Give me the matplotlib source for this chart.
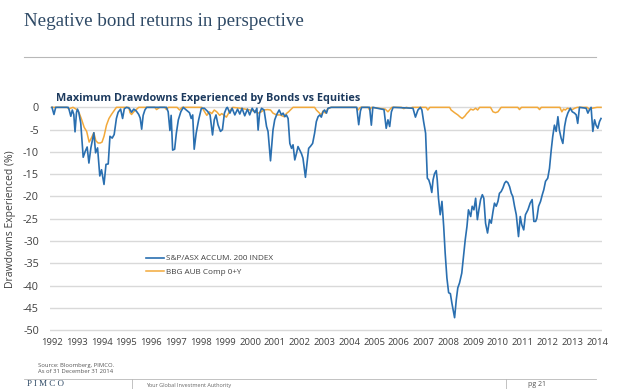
import matplotlib
matplotlib.use("Agg")
import matplotlib.pyplot as plt
from matplotlib.lines import Line2D

plt.rcParams['font.family'] = ['Open Sans', 'DejaVu Sans']
plt.rcParams['axes.unicode_minus'] = False

# S&P/ASX 200 accumulation index drawdown (%)
eq_year = [1992.00, 1992.08, 1992.15, 1992.65, 1992.69, 1992.76, 1992.82, 1992.88, 1992.93, 1992.99,
           1993.03, 1993.08, 1993.16, 1993.26, 1993.34, 1993.42, 1993.49, 1993.57, 1993.69, 1993.76,
           1993.84, 1993.93, 1994.00, 1994.10, 1994.18, 1994.27, 1994.34, 1994.43, 1994.51, 1994.60,
           1994.67, 1994.77, 1994.85, 1994.92, 1995.01, 1995.12, 1995.21, 1995.30, 1995.40, 1995.50,
           1995.56, 1995.62, 1995.68, 1995.75, 1995.82, 1996.62, 1996.69, 1996.76, 1996.81, 1996.87,
           1996.95, 1997.02, 1997.10, 1997.20, 1997.30, 1997.42, 1997.55, 1997.62, 1997.68, 1997.74,
           1997.82, 1997.92, 1998.03, 1998.15, 1998.28, 1998.38, 1998.48, 1998.55, 1998.62, 1998.70,
           1998.80, 1998.88, 1998.96, 1999.04, 1999.08, 1999.18, 1999.27, 1999.38, 1999.49, 1999.58,
           1999.67, 1999.78, 1999.89, 1999.98, 2000.08, 2000.19, 2000.27, 2000.32, 2000.38, 2000.46,
           2000.56, 2000.66, 2000.72, 2000.82, 2000.92, 2000.99, 2001.08, 2001.17, 2001.26, 2001.33,
           2001.40, 2001.46, 2001.53, 2001.60, 2001.67, 2001.73, 2001.80, 2001.87, 2001.93, 2002.00,
           2002.07, 2002.13, 2002.23, 2002.31, 2002.36, 2002.44, 2002.52, 2002.60, 2002.67, 2002.74,
           2002.81, 2002.87, 2002.94, 2003.00, 2003.08, 2003.14, 2003.28, 2004.30, 2004.38, 2004.45,
           2004.50, 2004.82, 2004.89, 2004.95, 2005.40, 2005.49, 2005.56, 2005.63, 2005.70, 2005.77,
           2006.57, 2006.67, 2006.77, 2006.87, 2006.93, 2007.00, 2007.08, 2007.15, 2007.21, 2007.27,
           2007.33, 2007.38, 2007.44, 2007.51, 2007.55, 2007.60, 2007.67, 2007.74, 2007.81, 2007.87,
           2007.94, 2008.01, 2008.08, 2008.14, 2008.25, 2008.32, 2008.38, 2008.45, 2008.54, 2008.61,
           2008.68, 2008.75, 2008.81, 2008.90, 2008.96, 2009.03, 2009.10, 2009.17, 2009.23, 2009.30,
           2009.37, 2009.43, 2009.50, 2009.58, 2009.66, 2009.73, 2009.80, 2009.86, 2009.93, 2010.00,
           2010.06, 2010.13, 2010.20, 2010.27, 2010.33, 2010.40, 2010.47, 2010.54, 2010.60, 2010.67,
           2010.74, 2010.78, 2010.83, 2010.90, 2010.96, 2011.04, 2011.11, 2011.21, 2011.30, 2011.38,
           2011.45, 2011.52, 2011.57, 2011.64, 2011.72, 2011.79, 2011.85, 2011.92, 2012.01, 2012.08,
           2012.15, 2012.21, 2012.28, 2012.35, 2012.42, 2012.48, 2012.55, 2012.62, 2012.69, 2012.75,
           2012.82, 2012.92, 2013.00, 2013.09, 2013.16, 2013.22, 2013.29, 2013.56, 2013.63, 2013.69,
           2013.76, 2013.83, 2013.90, 2013.96, 2014.03, 2014.10, 2014.16]
eq_dd = [0.0, -1.6, 0.0, 0.0, -0.5, -2.0, -0.6, -1.6, -5.5, -1.1,
         -0.4, -1.1, -3.5, -11.2, -9.9, -8.9, -12.5, -9.1, -5.7, -10.2,
         -9.1, -15.4, -14.0, -17.3, -12.8, -12.7, -6.5, -6.9, -6.1, -2.5,
         -1.1, -0.4, -2.5, -0.3, 0.0, -0.2, -1.1, -0.4, -0.8, -1.6,
         -2.4, -4.9, -1.8, -0.6, 0.0, 0.0, -1.0, -5.2, -1.8, -9.6,
         -9.4, -5.8, -2.8, -1.0, 0.0, -0.6, -1.2, -2.5, -1.7, -9.4,
         -5.8, -2.8, -0.2, -0.2, -0.9, -1.7, -6.2, -2.8, -1.7, -3.9,
         -5.4, -5.0, -1.3, -0.2, 0.0, -1.3, -0.2, -1.7, -0.4, -1.5,
         -0.2, -1.9, -0.4, -1.7, -0.2, -1.2, -0.2, -5.1, -1.3, -0.2,
         -0.6, -4.3, -5.4, -12.0, -5.1, -2.8, -1.5, -0.6, -1.7, -1.3,
         -2.1, -1.7, -2.5, -8.1, -9.2, -8.4, -11.8, -10.3, -8.8, -9.6,
         -10.4, -11.4, -15.7, -11.8, -9.2, -8.7, -8.1, -5.8, -3.2, -2.1,
         -1.7, -2.2, -1.0, -0.6, -1.3, -0.2, 0.0, 0.0, -3.9, -0.8,
         0.0, 0.0, -4.0, 0.0, -0.5, -4.7, -2.8, -4.3, -1.0, 0.0,
         -0.2, -2.2, -0.6, 0.0, -0.6, -3.2, -5.8, -15.9, -16.3, -17.4,
         -19.1, -16.3, -14.9, -14.2, -16.3, -20.4, -24.1, -21.1, -26.7, -32.7,
         -38.3, -41.6, -41.8, -43.9, -47.2, -43.1, -40.5, -39.4, -37.2, -33.4,
         -29.7, -26.7, -23.0, -24.5, -22.2, -23.0, -20.4, -25.2, -23.0, -20.7,
         -19.6, -20.4, -26.0, -28.2, -25.2, -26.0, -23.4, -21.5, -22.2, -21.1,
         -19.3, -18.9, -18.1, -17.0, -16.6, -16.9, -17.8, -19.3, -20.0, -22.2,
         -24.1, -26.3, -29.0, -24.5, -26.3, -27.5, -24.1, -23.0, -21.5, -20.7,
         -25.6, -25.6, -24.9, -22.2, -21.1, -19.6, -18.5, -16.6, -15.9, -13.7,
         -9.6, -6.6, -4.0, -5.4, -2.1, -5.1, -6.9, -8.1, -4.3, -2.5,
         -1.3, -0.2, -1.0, -1.3, -1.7, -3.6, 0.0, -0.2, -1.3, -0.6,
         0.0, -5.4, -2.8, -4.0, -4.7, -3.2, -2.5]

# Bloomberg AusBond Composite 0+Y drawdown (%)
bd_year = [1992.00, 1992.60, 1992.70, 1992.85, 1993.00, 1993.10, 1993.20, 1993.30, 1993.40, 1993.50,
           1993.58, 1993.69, 1993.77, 1993.86, 1993.95, 1994.02, 1994.10, 1994.20, 1994.30, 1994.40,
           1994.50, 1994.60, 1995.10, 1995.15, 1995.21, 1995.30, 1995.40, 1995.50, 1996.15, 1996.22,
           1996.35, 1996.55, 1996.62, 1996.70, 1997.05, 1997.15, 1997.25, 1998.05, 1998.17, 1998.25,
           1998.35, 1998.45, 1998.55, 1998.65, 1998.77, 1998.85, 1998.95, 1999.04, 1999.12, 1999.20,
           1999.30, 1999.60, 1999.80, 2000.00, 2000.20, 2000.32, 2000.42, 2000.55, 2000.70, 2000.82,
           2000.92, 2001.06, 2001.20, 2001.37, 2001.46, 2001.55, 2001.73, 2002.60, 2002.67, 2002.80,
           2002.87, 2002.94, 2003.04, 2003.12, 2003.25, 2004.28, 2004.35, 2004.45, 2004.76, 2004.82,
           2004.90, 2005.45, 2005.56, 2005.65, 2005.72, 2006.10, 2006.20, 2006.30, 2006.45, 2006.55,
           2007.10, 2007.17, 2007.25, 2008.05, 2008.11, 2008.25, 2008.38, 2008.48, 2008.56, 2008.66,
           2008.74, 2008.81, 2008.90, 2009.00, 2009.10, 2009.18, 2009.26, 2009.70, 2009.80, 2009.90,
           2010.00, 2010.13, 2010.80, 2010.87, 2010.95, 2011.60, 2011.68, 2011.75, 2012.50, 2012.58,
           2012.65, 2012.72, 2012.80, 2013.00, 2013.10, 2013.20, 2013.60, 2013.68, 2013.80, 2014.00, 2014.16]
bd_dd = [0.0, 0.0, -0.3, 0.0, -0.5, -1.3, -2.8, -4.5, -5.4, -7.8,
         -7.0, -5.7, -7.5, -8.0, -8.0, -7.8, -6.5, -4.0, -2.5, -1.6,
         -0.8, 0.0, 0.0, -1.2, -1.6, -1.0, -0.5, 0.0, 0.0, -0.5,
         0.0, 0.0, -0.5, 0.0, 0.0, -0.6, 0.0, 0.0, -1.1, -1.8,
         -1.0, -1.4, -0.6, -1.0, -1.8, -1.4, -1.8, -2.2, -1.4, -0.6,
         0.0, -0.2, -0.4, -0.6, -0.9, -1.3, -1.1, -0.6, -0.5, -0.6,
         -1.3, -1.7, -1.7, -2.1, -1.4, -1.0, 0.0, 0.0, -0.6, -1.3,
         -1.7, -0.8, -1.3, -0.4, 0.0, 0.0, -0.6, 0.0, 0.0, -0.6,
         0.0, -0.4, -1.0, -0.4, 0.0, 0.0, -0.3, 0.0, -0.2, 0.0,
         0.0, -0.6, 0.0, 0.0, -0.6, -1.2, -1.7, -2.2, -2.5, -2.0,
         -1.4, -1.0, -0.4, -0.6, -0.2, -0.6, 0.0, 0.0, -1.0, -1.2,
         -1.0, 0.0, 0.0, -0.5, 0.0, 0.0, -0.5, 0.0, 0.0, -1.0,
         -0.4, -0.6, -0.2, -0.5, -0.2, 0.0, 0.0, -0.4, -0.2, 0.0, 0.0]

years = list(range(1992, 2015))
yticks = list(range(0, -55, -5))

blue = '#2a6fb0'
orange = '#f2a93b'
navy = '#1c3a5e'
grey_txt = '#404040'

fig = plt.figure(figsize=(6.28, 3.89), dpi=100)
fig.patch.set_facecolor('white')

# page header
fig.text(24 / 628, 1 - 22 / 389, 'Negative bond returns in perspective',
         family='Liberation Serif', fontsize=13.7, color='#2f4a66', va='center', ha='left')
fig.add_artist(Line2D([24 / 628, 596 / 628], [1 - 57 / 389, 1 - 57 / 389],
                      color='#b8b8b8', lw=0.8))

# chart
ax = fig.add_axes([50 / 628, 1 - 331.5 / 389, 552 / 628, 225.5 / 389])
ax.plot(bd_year, bd_dd, color=orange, lw=1.1, label='BBG AUB Comp 0+Y', zorder=3)
ax.plot(eq_year, eq_dd, color=blue, lw=1.2, label='S&P/ASX ACCUM. 200 INDEX', zorder=4)
ax.set_xlim(1991.92, 2014.2)
ax.set_ylim(-50.3, 0.3)
ax.set_xticks(years)
ax.set_yticks(yticks)
ax.set_xticklabels([str(y) for y in years])
ax.set_yticklabels([str(v) for v in yticks])
ax.tick_params(axis='x', length=0, labelsize=6.8, colors=grey_txt, pad=5)
ax.tick_params(axis='y', length=0, labelsize=7.8, colors=grey_txt, pad=8)
ax.grid(axis='y', color='#d9d9d9', lw=1.0)
ax.set_axisbelow(True)
for s in ax.spines.values():
    s.set_visible(False)
ax.set_ylabel('Drawdowns Experienced (%)', fontsize=7.5, color=grey_txt)
ax.yaxis.set_label_coords(-0.062, 0.5)

handles, labels = ax.get_legend_handles_labels()
leg = ax.legend(handles[::-1], labels[::-1], loc='upper left', bbox_to_anchor=(0.168, 0.355),
                frameon=False, fontsize=5.9, handlelength=2.2, handletextpad=0.3,
                labelspacing=0.75, borderaxespad=0)
for t in leg.get_texts():
    t.set_color(grey_txt)

fig.text(56 / 628, 1 - 98 / 389, 'Maximum Drawdowns Experienced by Bonds vs Equities',
         fontsize=7.8, fontweight='bold', color=navy, va='center', ha='left')

# notes and footer
fig.text(38 / 628, 1 - 365 / 389, 'Source: Bloomberg, PIMCO.', fontsize=4.2, color='#555555', va='center')
fig.text(38 / 628, 1 - 371.5 / 389, 'As of 31 December 31 2014', fontsize=4.2, color='#555555', va='center')
fig.add_artist(Line2D([24 / 628, 596 / 628], [1 - 379 / 389, 1 - 379 / 389], color='#b8b8b8', lw=0.6))
fig.add_artist(Line2D([132 / 628, 132 / 628], [0, 1 - 379 / 389], color='#b8b8b8', lw=0.6))
fig.add_artist(Line2D([506 / 628, 506 / 628], [0, 1 - 379 / 389], color='#b8b8b8', lw=0.6))
fig.text(27 / 628, 1 / 389, 'P I M C O', family='Liberation Serif', fontsize=6.5,
         color='#2f4a66', va='bottom')
fig.text(146 / 628, 1 - 385 / 389, 'Your Global Investment Authority', fontsize=4, color='#666666', va='center')
fig.text(528 / 628, 1 / 389, 'pg 21', fontsize=5, color='#555555', va='bottom')

fig.savefig('out.png', dpi=100)
